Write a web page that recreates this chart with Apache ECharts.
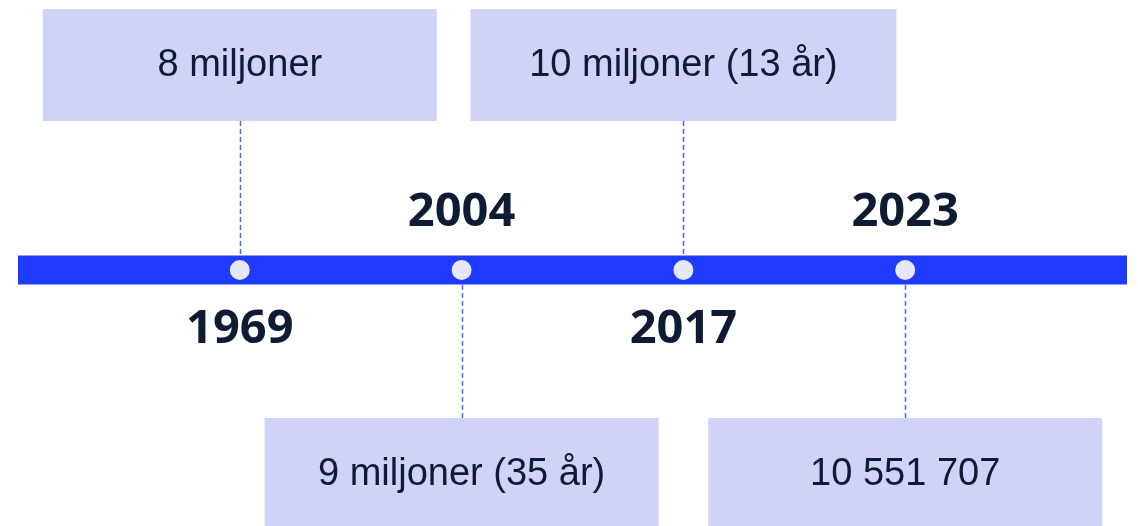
<!DOCTYPE html>
<html>
<head>
<meta charset="utf-8">
<script src="https://cdn.jsdelivr.net/npm/echarts@6/dist/echarts.min.js"></script>
<style>
  html, body { margin: 0; padding: 0; background: #fff; }
  #chart { width: 1138px; height: 526px; }
</style>
</head>
<body>
<div id="chart"></div>
<script>
// timeline data
const years = ['1969', '2004', '2017', '2023']
const notes = ['8 miljoner', '9 miljoner (35 år)', '10 miljoner (13 år)', '10 551 707']
const sides = ['top', 'bottom', 'top', 'bottom'] // where the note box sits

const BAR_COLOR = '#1f3bff'
const BOX_COLOR = '#d1d2f8'
const TEXT_COLOR = '#0f1b33'
const NOTE_FONT = '38px "Liberation Sans", Arial, sans-serif'

// measure text so wide notes get a wider box
const ctx = document.createElement('canvas').getContext('2d')
ctx.font = NOTE_FONT
const boxWidth = (txt) => {
  const w = ctx.measureText(txt).width
  return w > 300 ? Math.round(w + 118) : 394
}

const chart = echarts.init(document.getElementById('chart'))

const renderItem = (params, api) => {
  const i = api.value(2)
  const p = api.coord([api.value(0), api.value(1)])
  const up = sides[i] === 'top'
  const boxH = 112
  const w = boxWidth(notes[i])
  const boxY = up ? p[1] - 261 : p[1] + 148
  const x = Math.round(p[0]) + 0.5
  return {
    type: 'group',
    children: [
      {
        type: 'line',
        shape: up
          ? { x1: x, y1: boxY + boxH, x2: x, y2: p[1] - 15 }
          : { x1: x, y1: p[1] + 15, x2: x, y2: boxY },
        style: { stroke: '#4c62f4', lineWidth: 1.5, lineDash: [5, 3] }
      },
      {
        type: 'rect',
        shape: { x: p[0] - w / 2, y: boxY, width: w, height: boxH },
        style: { fill: BOX_COLOR }
      },
      {
        type: 'text',
        x: p[0],
        y: boxY + boxH / 2 + 1,
        style: {
          text: notes[i],
          font: NOTE_FONT,
          fill: TEXT_COLOR,
          align: 'center',
          verticalAlign: 'middle'
        }
      },
      {
        type: 'text',
        x: p[0],
        y: up ? p[1] + 60 : p[1] - 57,
        style: {
          text: years[i],
          font: 'bold 47px "Open Sans", "Noto Sans", sans-serif',
          fill: TEXT_COLOR,
          align: 'center',
          verticalAlign: 'middle'
        }
      }
    ]
  }
}

const option = {
  animation: false,
  grid: { left: 18, right: 11, top: 0, bottom: 0 },
  xAxis: { type: 'value', min: -1, max: 4, show: false },
  yAxis: { type: 'value', min: -256, max: 270, show: false },
  series: [
    {
      type: 'custom',
      z: 1,
      renderItem: renderItem,
      data: years.map((y, i) => [i, 0, i])
    },
    {
      type: 'line',
      z: 2,
      symbol: 'none',
      data: [[-1, 0], [4, 0]],
      lineStyle: { color: BAR_COLOR, width: 29, cap: 'butt' }
    },
    {
      type: 'scatter',
      z: 3,
      symbolSize: 20,
      data: years.map((y, i) => [i, 0]),
      itemStyle: { color: '#e6e8f8', opacity: 1 }
    }
  ]
}

chart.setOption(option)
window.addEventListener('resize', () => chart.resize())
</script>
</body>
</html>
